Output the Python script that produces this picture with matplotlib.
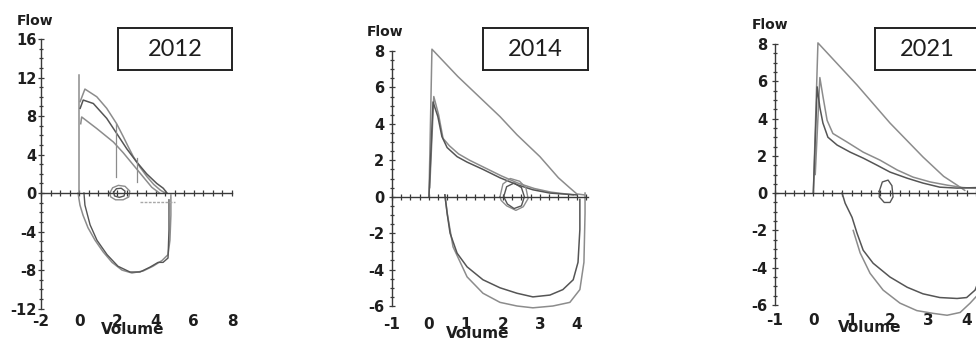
import matplotlib
matplotlib.use("Agg")
import matplotlib.pyplot as plt
from matplotlib.ticker import MultipleLocator

plt.rcParams['axes.unicode_minus'] = False

W, H = 976, 341

# ---------------- data: 2012 ----------------
v12_spike = [0.0, 0.0]
f12_spike = [0.0, 12.3]
v12_exp1 = [0.05, 0.30, 0.92, 1.44, 1.96, 2.31, 2.57, 2.83, 3.18, 3.55, 3.90, 4.25, 4.5]
f12_exp1 = [9.5, 10.8, 10.0, 8.8, 7.2, 5.85, 4.8, 3.8, 2.7, 1.7, 0.9, 0.3, 0.0]
v12_exp2 = [0.05, 0.21, 0.74, 1.44, 1.96, 2.49, 3.00, 3.53, 4.06, 4.40, 4.6]
f12_exp2 = [8.8, 9.66, 9.3, 7.76, 6.2, 4.6, 3.25, 2.0, 1.0, 0.5, 0.0]
v12_exp3 = [0.08, 0.13, 0.92, 1.79, 2.3, 2.8, 3.3, 3.8, 4.2]
f12_exp3 = [7.2, 7.9, 6.7, 5.3, 4.2, 3.0, 1.8, 0.6, 0.0]
v12_insp1 = [-0.06, 0.04, 0.2, 0.46, 0.83, 1.25, 1.72, 2.24, 2.76, 3.34, 3.86, 4.34, 4.65, 4.75, 4.8, 4.8]
f12_insp1 = [0.0, -1.25, -2.3, -3.6, -4.9, -6.1, -7.2, -8.0, -8.3, -8.1, -7.6, -7.0, -6.4, -4.9, -2.3, -0.2]
v12_insp2 = [0.25, 0.3, 0.57, 0.93, 1.46, 2.03, 2.66, 3.18, 3.7, 4.13, 4.39, 4.65, 4.7, 4.7]
f12_insp2 = [0.0, -1.25, -3.3, -4.9, -6.4, -7.6, -8.2, -8.2, -7.7, -7.2, -7.2, -6.75, -3.8, -0.7]
v12_tid1 = [1.6, 1.75, 2.05, 2.4, 2.65, 2.6, 2.3, 1.9, 1.65, 1.6]
f12_tid1 = [0.0, 0.55, 0.8, 0.7, 0.2, -0.4, -0.7, -0.7, -0.4, 0.0]
v12_tid2 = [1.8, 1.95, 2.2, 2.4, 2.35, 2.1, 1.85, 1.8]
f12_tid2 = [0.1, 0.45, 0.5, 0.2, -0.3, -0.45, -0.3, 0.1]
v12_mark1 = [1.95, 1.95]
f12_mark1 = [7.2, 1.7]
v12_mark2 = [3.05, 3.05]
f12_mark2 = [3.6, 1.2]
v12_base = [3.2, 5.0]
f12_base = [-0.9, -0.9]

# ---------------- data: 2014 ----------------
v14_env = [0.0, 0.08, 0.78, 1.92, 2.38, 3.0, 3.5, 3.8, 4.0, 4.2]
f14_env = [0.0, 8.1, 6.6, 4.4, 3.4, 2.2, 1.04, 0.5, 0.15, 0.1]
v14_exp1 = [0.0, 0.11, 0.24, 0.35, 0.49, 0.76, 1.03, 1.46, 1.92, 2.38, 2.81, 3.27, 4.0]
f14_exp1 = [0.0, 5.2, 4.4, 3.3, 2.7, 2.2, 1.9, 1.5, 1.04, 0.66, 0.38, 0.2, 0.1]
v14_exp2 = [0.02, 0.13, 0.26, 0.38, 0.55, 0.8, 1.1, 1.5, 1.95, 2.4, 2.85, 3.3, 3.9]
f14_exp2 = [0.5, 5.5, 4.5, 3.2, 2.8, 2.35, 2.0, 1.6, 1.15, 0.75, 0.45, 0.25, 0.1]
v14_insp1 = [0.43, 0.49, 0.57, 0.76, 1.03, 1.46, 1.92, 2.38, 2.81, 3.27, 3.62, 3.9, 4.03, 4.08, 4.08]
f14_insp1 = [0.1, -0.9, -2.0, -3.1, -3.85, -4.56, -5.0, -5.3, -5.5, -5.4, -5.1, -4.56, -3.6, -1.8, -0.15]
v14_insp2 = [0.43, 0.5, 0.65, 1.03, 1.46, 1.92, 2.38, 2.81, 3.35, 3.81, 4.08, 4.19, 4.22, 4.22]
f14_insp2 = [0.1, -1.0, -2.75, -4.4, -5.3, -5.8, -6.0, -6.1, -6.0, -5.8, -5.1, -3.6, -0.9, 0.2]
v14_tid1 = [1.92, 2.0, 2.2, 2.45, 2.62, 2.68, 2.55, 2.35, 2.1, 1.95, 1.92]
f14_tid1 = [0.0, 0.7, 1.0, 0.85, 0.5, -0.1, -0.55, -0.75, -0.5, -0.2, 0.0]
v14_tid2 = [2.02, 2.1, 2.3, 2.5, 2.58, 2.5, 2.3, 2.12, 2.02]
f14_tid2 = [0.0, 0.55, 0.75, 0.5, 0.0, -0.5, -0.65, -0.4, 0.0]

# ---------------- data: 2021 ----------------
v21_env = [0.0, 0.12, 1.14, 2.0, 2.86, 3.4, 3.75, 3.95]
f21_env = [0.0, 8.06, 5.8, 3.76, 1.94, 0.9, 0.43, 0.15]
v21_exp1 = [0.0, 0.1, 0.17, 0.25, 0.38, 0.62, 0.96, 1.3, 1.66, 2.0, 2.45, 2.86, 3.3, 3.75, 4.3]
f21_exp1 = [0.0, 5.7, 4.6, 3.76, 3.0, 2.58, 2.2, 1.88, 1.5, 1.13, 0.8, 0.54, 0.32, 0.27, 0.3]
v21_exp2 = [0.05, 0.17, 0.25, 0.36, 0.51, 0.88, 1.3, 1.74, 2.19, 2.6, 3.05, 3.49, 3.9, 4.3]
f21_exp2 = [1.0, 6.2, 5.2, 3.9, 3.2, 2.74, 2.2, 1.77, 1.24, 0.86, 0.6, 0.43, 0.3, 0.25]
v21_insp1 = [0.75, 0.83, 1.01, 1.14, 1.3, 1.56, 2.0, 2.45, 2.86, 3.3, 3.75, 4.0, 4.22, 4.35]
f21_insp1 = [0.0, -0.54, -1.3, -2.15, -3.06, -3.76, -4.5, -5.05, -5.4, -5.6, -5.65, -5.6, -5.2, -4.5]
v21_insp2 = [1.04, 1.22, 1.48, 1.82, 2.26, 2.7, 3.13, 3.49, 3.83, 4.09, 4.27]
f21_insp2 = [-2.0, -3.2, -4.3, -5.2, -5.9, -6.3, -6.45, -6.55, -6.4, -5.9, -5.5]
v21_tid = [1.72, 1.8, 1.95, 2.05, 2.08, 2.0, 1.85, 1.72, 1.72]
f21_tid = [0.1, 0.6, 0.7, 0.4, -0.2, -0.5, -0.5, -0.2, 0.1]

years = ["2012", "2014", "2021"]

LIGHT = '#8c8c8c'
DARK = '#555555'
AXC = '#3a3a3a'
TXT = '#1e1e1e'
FONT = 'DejaVu Sans'

fig = plt.figure(figsize=(W / 100, H / 100), dpi=100)


def panel(l, r, t, b, xlim, ylim, xmaj, xmin, ymaj, ymin, xpad, ypad):
    ax = fig.add_axes([l / W, 1 - b / H, (r - l) / W, (b - t) / H])
    ax.set_xlim(*xlim)
    ax.set_ylim(*ylim)
    ax.patch.set_alpha(0)
    for s in ['top', 'right']:
        ax.spines[s].set_visible(False)
    ax.spines['bottom'].set_position(('data', 0))
    for s in ['left', 'bottom']:
        ax.spines[s].set_color(AXC)
        ax.spines[s].set_linewidth(1.0)
    ax.xaxis.set_major_locator(MultipleLocator(xmaj))
    ax.xaxis.set_minor_locator(MultipleLocator(xmin))
    ax.yaxis.set_major_locator(MultipleLocator(ymaj))
    ax.yaxis.set_minor_locator(MultipleLocator(ymin))
    ax.tick_params(axis='x', which='both', direction='inout', length=4, width=0.9,
                   color=AXC, labelbottom=False)
    ax.tick_params(axis='y', which='major', direction='inout', length=5, width=0.9,
                   color=AXC, pad=ypad, labelsize=10.5, labelcolor=TXT)
    ax.tick_params(axis='y', which='minor', direction='inout', length=3, width=0.9, color=AXC)
    for lab in ax.get_yticklabels():
        lab.set_fontweight('bold')
        lab.set_family(FONT)
    sec = ax.secondary_xaxis(0)
    sec.spines['bottom'].set_visible(False)
    sec.xaxis.set_major_locator(MultipleLocator(xmaj))
    sec.tick_params(axis='x', length=0, pad=xpad, labelsize=11, labelcolor=TXT)
    for lab in sec.get_xticklabels():
        lab.set_fontweight('bold')
        lab.set_family(FONT)
    return ax


def label_texts(flow_xy, vol_xy, box_l, box_r, year):
    fig.text(flow_xy[0] / W, 1 - flow_xy[1] / H, "Flow", ha='center', va='center',
             fontsize=10, fontweight='bold', family=FONT, color=TXT)
    fig.text(vol_xy[0] / W, 1 - vol_xy[1] / H, "Volume", ha='center', va='center',
             fontsize=11, fontweight='bold', family=FONT, color=TXT)
    bx = fig.add_axes([box_l / W, 1 - 70 / H, (box_r - box_l) / W, 42 / H])
    bx.set_xticks([])
    bx.set_yticks([])
    for s in bx.spines.values():
        s.set_linewidth(1.4)
        s.set_color('#222222')
    bx.text(0.5, 0.48, year, ha='center', va='center', fontsize=17,
            family='Lato', color=TXT, transform=bx.transAxes)


def curve(ax, v, f, color, lw=1.1, **kw):
    ax.plot(v, f, color=color, lw=lw, clip_on=False, **kw)


# ---- panel 2012 ----
a1 = panel(41, 232, 39, 308.6, (-2, 8), (-12, 16), 2, 0.5, 4, 1, 4, 0.8)
curve(a1, v12_spike, f12_spike, LIGHT)
curve(a1, v12_exp1, f12_exp1, LIGHT)
curve(a1, v12_exp2, f12_exp2, DARK)
curve(a1, v12_exp3, f12_exp3, LIGHT)
curve(a1, v12_insp1, f12_insp1, LIGHT)
curve(a1, v12_insp2, f12_insp2, DARK, 1.0)
curve(a1, v12_tid1, f12_tid1, LIGHT, 1.0)
curve(a1, v12_tid2, f12_tid2, DARK, 1.0)
curve(a1, v12_mark1, f12_mark1, LIGHT, 0.9)
curve(a1, v12_mark2, f12_mark2, LIGHT, 0.9)
curve(a1, v12_base, f12_base, '#a8a8a8', 1.0, ls=(0, (2, 1)))
label_texts((35, 21), (133, 329), 118, 232, years[0])

# ---- panel 2014 ----
a2 = panel(392, 588, 51, 306, (-1, 4.3), (-6, 8), 1, 0.25, 2, 0.5, 8, 3)
curve(a2, v14_env, f14_env, LIGHT)
curve(a2, v14_exp2, f14_exp2, LIGHT)
curve(a2, v14_exp1, f14_exp1, DARK)
curve(a2, v14_insp2, f14_insp2, LIGHT)
curve(a2, v14_insp1, f14_insp1, DARK)
curve(a2, v14_tid1, f14_tid1, LIGHT, 1.0)
curve(a2, v14_tid2, f14_tid2, DARK, 1.0)
label_texts((385, 32), (478, 333), 483, 588, years[1])

# ---- panel 2021 ----
a3 = panel(775, 982, 44, 305, (-1, 4.4), (-6, 8), 1, 0.25, 2, 0.5, 6, 3)
curve(a3, v21_env, f21_env, LIGHT)
curve(a3, v21_exp2, f21_exp2, LIGHT)
curve(a3, v21_exp1, f21_exp1, DARK)
curve(a3, v21_insp2, f21_insp2, LIGHT)
curve(a3, v21_insp1, f21_insp1, DARK)
curve(a3, v21_tid, f21_tid, DARK, 1.0)
label_texts((770, 25), (870, 328), 875, 980, years[2])

fig.savefig("out.png", dpi=100)
